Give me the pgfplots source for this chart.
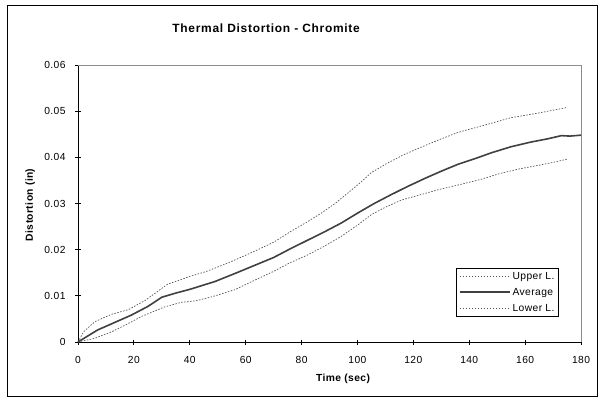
\documentclass[border=0pt]{standalone}
\usepackage{fontspec}
\setmainfont{Liberation Sans}
\newfontfamily\spfont[LetterSpace=4]{Liberation Sans}
\newfontfamily\ttlfont[LetterSpace=6]{Liberation Sans}
\usepackage{pgfplots}
\pgfplotsset{compat=1.18}
\definecolor{avgc}{HTML}{404040}
\definecolor{limc}{HTML}{555555}
\begin{document}
\begin{tikzpicture}
\begin{axis}[
  scale only axis, width=503bp, height=277bp,
  xmin=0, xmax=180, ymin=0, ymax=0.06,
  axis lines*=left,
  axis line style={black, line width=0.9bp},
  xtick={0,20,...,180},
  ytick={0,0.01,...,0.06},
  scaled y ticks=false,
  yticklabel style={/pgf/number format/fixed,/pgf/number format/precision=2, xshift=-6.5bp},
  xticklabel style={yshift=-8bp},
  /pgf/number format/assume math mode=true,
  tick label style={font=\spfont\fontsize{10.3}{12}\selectfont},
  tick align=center, major tick length=5bp,
  tick style={black, line width=0.8bp},
  xlabel={Time (sec)},
  xlabel style={font=\spfont\fontsize{10.3}{12}\selectfont\bfseries, at={(axis description cs:0.527,-0.143)}, anchor=base},
  ylabel={Distortion (in)},
  ylabel style={font=\spfont\fontsize{10.3}{12}\selectfont\bfseries, at={(axis description cs:-0.095,0.495)}, anchor=center, rotate=0},
  legend style={at={(axis description cs:0.956,0.090)}, anchor=south east, draw=black, line width=0.9bp,
    font=\spfont\fontsize{10.3}{12}\selectfont, inner sep=2bp, row sep=3.5bp, legend cell align=left},
  clip=false,
]
\draw[black!45, line width=0.8bp] (rel axis cs:0,1) -- (rel axis cs:1,1) -- (rel axis cs:1,0);
\coordinate (O) at (rel axis cs:0,0);
\coordinate (T) at (rel axis cs:1,1);
\node[font=\ttlfont\fontsize{12}{14}\selectfont\bfseries, anchor=base] at (rel axis cs:0.374,1.118) {Thermal Distortion - Chromite};
\addplot[limc, line width=0.7bp, dash pattern=on 1.5bp off 1.5bp,
  legend image code/.code={\draw[limc, line width=0.7bp, dash pattern=on 1.5bp off 1.5bp] (0bp,0bp) -- (50bp,0bp);}] coordinates {
(0,0) (2,0.0022) (6,0.0044) (12,0.0060) (18,0.0070) (24,0.0090) (32,0.0125) (40,0.0142) (46,0.0153) (54,0.0172) (60,0.0188) (64,0.0199) (70,0.0216) (76,0.0239) (82,0.0260) (87,0.0279) (92,0.0300) (97,0.0325) (101,0.0345) (105,0.0367) (110,0.0385) (116,0.0404) (122,0.0420) (130,0.0440) (136,0.0454) (142,0.0464) (148,0.0474) (155,0.0486) (163,0.0494) (170,0.0502) (175,0.0508)
};
\addlegendentry{Upper L.}
\addplot[avgc, line width=1.6bp,
  legend image code/.code={\draw[avgc, line width=2.2bp] (0bp,0bp) -- (50bp,0bp);}] coordinates {
(0,0) (7,0.0026) (13,0.0042) (19,0.0058) (25,0.0077) (30,0.0097) (35,0.0106) (40,0.0114) (49,0.0131) (56,0.0148) (64,0.0168) (70,0.0183) (76,0.0202) (82,0.0220) (88,0.0238) (94,0.0257) (100,0.0279) (106,0.0300) (112,0.0319) (118,0.0337) (124,0.0354) (130,0.0370) (136,0.0385) (142,0.0397) (148,0.0410) (155,0.0423) (162,0.0433) (168,0.0440) (173,0.0447) (176,0.0446) (180,0.0448)
};
\addlegendentry{Average}
\addplot[limc, line width=0.7bp, dash pattern=on 1.5bp off 1.5bp,
  legend image code/.code={\draw[limc, line width=0.7bp, dash pattern=on 1.5bp off 1.5bp] (0bp,0bp) -- (50bp,0bp);}] coordinates {
(0,0) (6,0.0008) (12,0.0022) (17,0.0037) (23,0.0056) (31,0.0076) (37,0.0086) (42,0.0089) (48,0.0098) (56,0.0113) (64,0.0136) (70,0.0153) (76,0.0172) (82,0.0188) (88,0.0207) (94,0.0228) (100,0.0253) (105,0.0276) (110,0.0292) (116,0.0308) (122,0.0318) (129,0.0330) (136,0.0340) (144,0.0352) (151,0.0365) (158,0.0375) (165,0.0383) (170,0.0389) (175,0.0396)
};
\addlegendentry{Lower L.}
\end{axis}
\draw[black, line width=1bp] ([shift={(-70bp,-54bp)}]O) rectangle ([shift={(16bp,59bp)}]T);
\useasboundingbox ([shift={(-78bp,-57bp)}]O) rectangle ([shift={(24bp,65bp)}]T);
\end{tikzpicture}
\end{document}
